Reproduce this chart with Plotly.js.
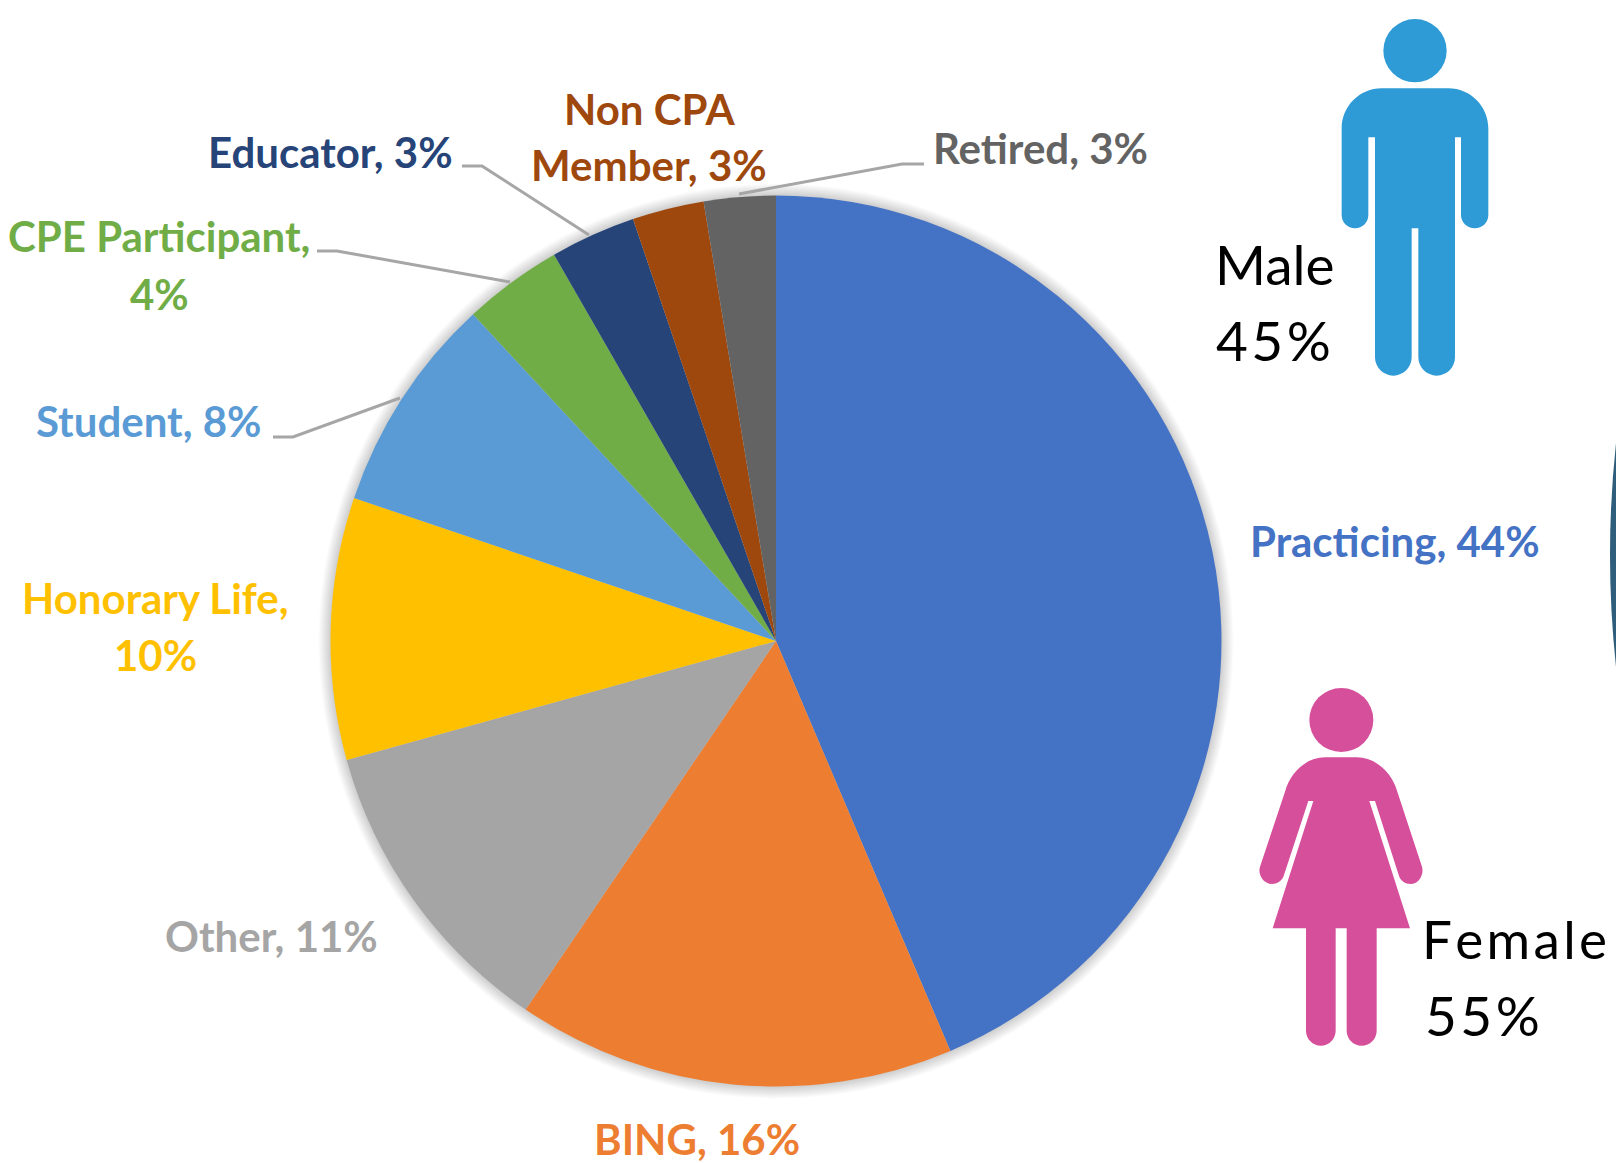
<!DOCTYPE html>
<html>
<head>
<meta charset="utf-8">
<script src="https://cdn.plot.ly/plotly-3.0.1.min.js"></script>
<style>html,body{margin:0;padding:0;background:#fff;overflow:hidden}#chart{width:1616px;height:1163px}</style>
</head>
<body>
<div id="chart"></div>
<script>
// ---- chart data ----
var categories = ["Practicing","BING","Other","Honorary Life","Student","CPE Participant","Educator","Non CPA Member","Retired"];
var sliceValues = [43.6,15.9,11.2,9.5,7.9,3.6,3.1,2.6,2.6];
var shownPercents = [44,16,11,10,8,4,3,3,3];
var sliceColors = ["#4472C4","#ED7D31","#A5A5A5","#FFC000","#5B9BD5","#70AD47","#264478","#9E480E","#636363"];
var genderLabels = ["Male","Female"];
var genderPercents = [45,55];

// ---- layout helpers (pixel positions on the 1616x1163 page) ----
var W = 1616, H = 1163;
var cx = 776, cy = 641, R = 445.5;
function px(x){ return x / W; }
function py(y){ return 1 - y / H; }

// label lines per category: [text, centre x, centre y]
function lab(i){ return categories[i] + ", " + shownPercents[i] + "%"; }
var labelPlacement = [
  [[lab(0), 1395, 541]],
  [[lab(1), 697, 1138.5]],
  [[lab(2), 271, 936]],
  [["Honorary Life,", 155, 598], [shownPercents[3] + "%", 155, 655]],
  [[lab(4), 149, 421]],
  [["CPE Participant,", 159, 236.5], [shownPercents[5] + "%", 159, 293.5]],
  [[lab(6), 330, 152]],
  [["Non CPA", 649, 108.5], ["Member, " + shownPercents[7] + "%", 649, 165.5]],
  [[lab(8), 1040, 148]]
];

var annotations = [];
function addText(text, x, y, color, size, anchor, weight, family){
  annotations.push({
    text: text, x: px(x), y: py(y), xref: "paper", yref: "paper",
    xanchor: anchor, yanchor: "middle", showarrow: false,
    font: {family: family, size: size, color: color, weight: weight}
  });
}
labelPlacement.forEach(function(lines, i){
  lines.forEach(function(l){
    addText(l[0], l[1], l[2], sliceColors[i], 42, "center", 700, "Lato, Carlito, sans-serif");
  });
});
var spaced = function(p){ return String(p).split("").join("\u200A") + "\u200A%"; };
var gFont = "Lato, sans-serif";
addText(genderLabels[0], 1213, 264, "#000", 55, "left", 400, gFont);
addText(spaced(genderPercents[0]), 1214, 340, "#000", 55, "left", 400, gFont);
addText(genderLabels[1].split("").join("\u200A"), 1420, 939, "#000", 53, "left", 400, gFont);
addText(spaced(genderPercents[1]), 1423, 1015, "#000", 55, "left", 400, gFont);

// ---- shapes ----
var shapes = [];
// soft shadow round the pie
for (var s = 12; s >= 1; s--) {
  shapes.push({type:"circle", xref:"paper", yref:"paper", layer:"below",
    x0:px(cx-R-s), x1:px(cx+R+s), y0:py(cy+R+s), y1:py(cy-R-s),
    fillcolor:"rgba(0,0,0,0.014)", line:{width:0}});
}
// leader lines
var leaders = [
  [[462,166],[482,166],[589,235]],
  [[317,251],[337,251],[510,282]],
  [[273,437],[293,437],[400,398]],
  [[924,164],[902,164],[739,194]]
];
leaders.forEach(function(pts){
  shapes.push({type:"path", xref:"paper", yref:"paper", layer:"above",
    path:"M" + pts.map(function(p){ return px(p[0]) + "," + py(p[1]); }).join(" L"),
    line:{color:"#A6A6A6", width:3}});
});
// convert a path written in a crop's 3x pixels to paper coordinates
function iconPath(d, ox, oy){
  var isX = true;
  return d.replace(/-?\d+(\.\d+)?/g, function(n){
    var v = parseFloat(n) / 3, r = isX ? px(v + ox) : py(v + oy);
    isX = !isX;
    return r.toFixed(6);
  });
}
function addIcon(head, body, ox, oy, color){
  var hx = head[0]/3 + ox, hy = head[1]/3 + oy, hr = head[2]/3;
  shapes.push({type:"circle", xref:"paper", yref:"paper", layer:"above",
    x0:px(hx-hr), x1:px(hx+hr), y0:py(hy+hr), y1:py(hy-hr),
    fillcolor:color, line:{width:0}});
  shapes.push({type:"path", xref:"paper", yref:"paper", layer:"above",
    path:iconPath(body, ox, oy), fillcolor:color, line:{width:0}});
}
addIcon([645,152,95],
  "M 425 385 C 425 319 479 265 545 265 L 745 265 C 811 265 865 319 865 385 L 865 645 C 865 667 847 685 824 685 C 802 685 783 667 783 645 L 783 412 L 765 412 L 765 1072 C 765 1102 741 1127 710 1127 C 680 1127 655 1102 655 1072 L 655 685 L 635 685 L 635 1072 C 635 1102 610 1127 580 1127 C 550 1127 525 1102 525 1072 L 525 412 L 505 412 L 505 645 C 505 667 487 685 465 685 C 443 685 425 667 425 645 Z",
  1200, 0, "#2E9BD6");
addIcon([304,150,96],
  "M 255 262 L 350 262 C 405 262 455 305 472 365 L 546 590 C 553 615 535 642 512 642 C 495 642 482 632 477 618 L 405 393 L 388 393 L 510 775 L 410 775 L 410 1082 C 410 1107 390 1127 365 1127 C 340 1127 320 1107 320 1082 L 320 775 L 287 775 L 287 1082 C 287 1107 267 1127 243 1127 C 218 1127 198 1107 198 1082 L 198 775 L 98 775 L 220 393 L 205 393 L 131 618 C 126 632 112 642 95 642 C 72 642 52 615 60 590 L 135 365 C 152 305 200 262 255 262 Z",
  1240, 670, "#D64F9B");
// sliver of a dark circle at the right edge
shapes.push({type:"path", xref:"paper", yref:"paper", layer:"above",
  path:"M" + px(1616) + "," + py(443) + " Q" + px(1604) + "," + py(555) + " " + px(1616) + "," + py(667) + " Z",
  fillcolor:"#2F5D7C", line:{width:0}});

var trace = {
  type: "pie",
  labels: categories,
  values: sliceValues,
  sort: false,
  direction: "clockwise",
  rotation: 0,
  textinfo: "none",
  hoverinfo: "label+percent",
  marker: {colors: sliceColors, line: {width: 0}},
  domain: {x: [px(cx-R), px(cx+R)], y: [py(cy+R), py(cy-R)]}
};
var layout = {
  width: W, height: H,
  margin: {l:0, r:0, t:0, b:0},
  showlegend: false,
  paper_bgcolor: "#fff",
  shapes: shapes,
  annotations: annotations
};
Plotly.newPlot("chart", [trace], layout, {displayModeBar:false, staticPlot:true});
</script>
</body>
</html>
